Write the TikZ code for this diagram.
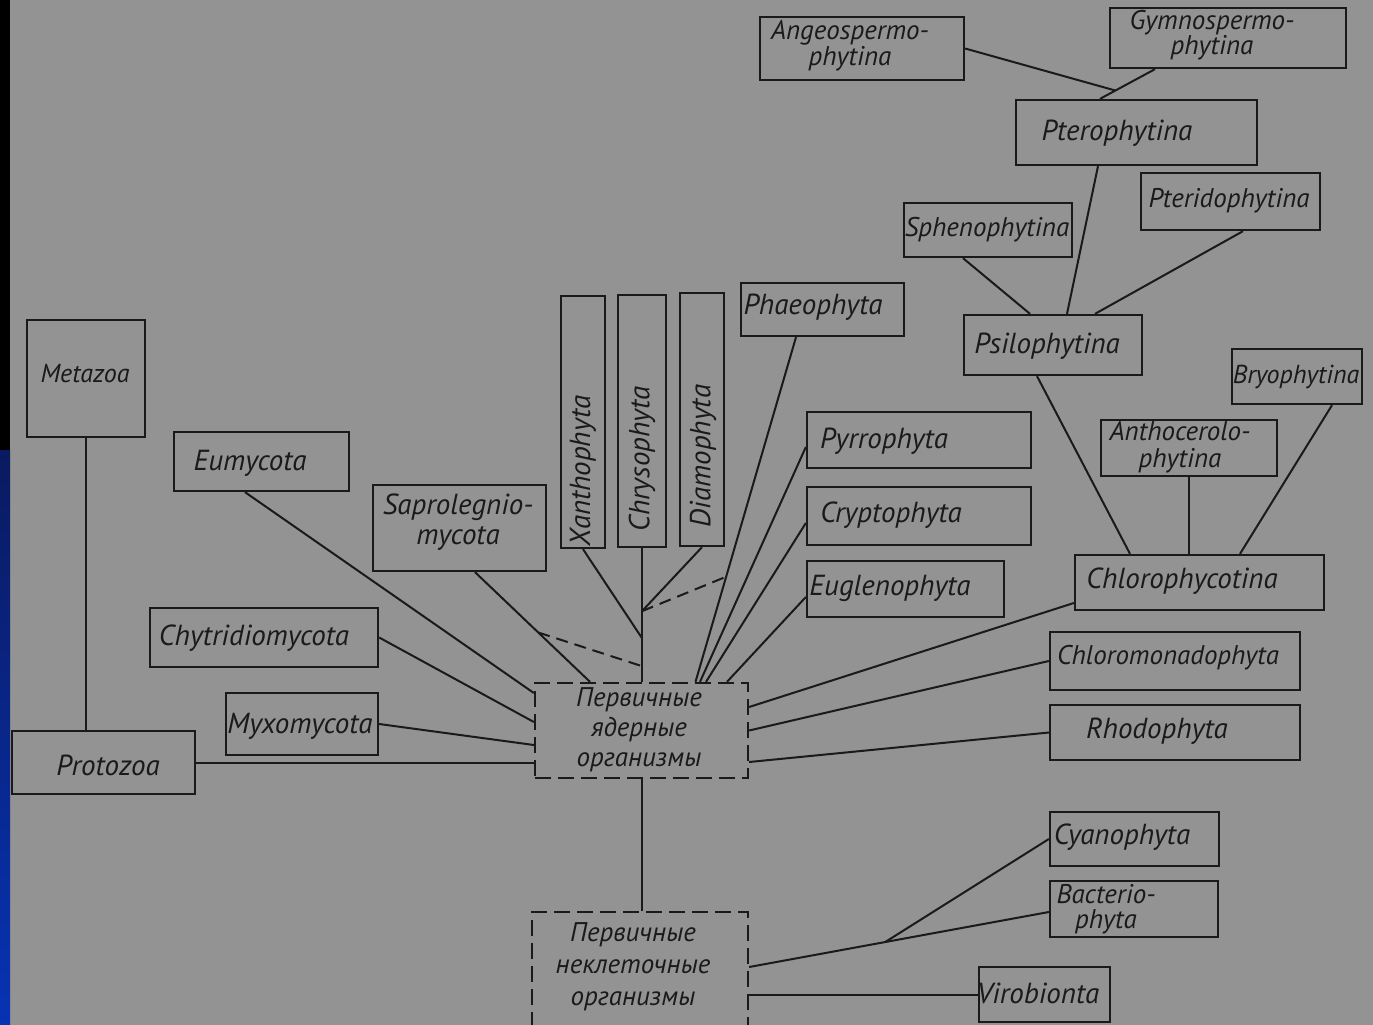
\documentclass[tikz,border=0pt]{standalone}
\usepackage{fontspec}
\setmainfont{PT Sans}
\usetikzlibrary{calc}
\definecolor{bg}{HTML}{939393}
\definecolor{ink}{HTML}{1A1A1A}
\definecolor{navy}{HTML}{0A1A60}
\definecolor{royal}{HTML}{0733B4}
\begin{document}
\begin{tikzpicture}[x=1pt,y=-1pt,
  box/.style={draw=ink, line width=2.3pt, inner sep=0pt},
  dbox/.style={box, dash pattern=on 16pt off 7pt},
  lbl/.style={text=ink, font=\fontsize{29}{30}\selectfont\itshape, inner sep=0pt, align=center},
  con/.style={draw=ink, line width=2pt},
  dcon/.style={con, dash pattern=on 12pt off 7pt}]
\useasboundingbox (0,0) rectangle (1373,1025);
\begin{scope}
\clip (0,0) rectangle (1373,1025);
\fill[bg] (0,0) rectangle (1373,1025);
\fill[black] (0,0) rectangle (10,450);
\shade[top color=navy, bottom color=royal] (0,450) rectangle (10,1025);

% boxes
\node[box, minimum width=118pt, minimum height=117pt] (meta) at (86,378.5) {};
\node[box, minimum width=175pt, minimum height=59pt] (eumy) at (261.5,461.5) {};
\node[box, minimum width=173pt, minimum height=86pt] (sapro) at (459.5,528) {};
\node[box, minimum width=44pt, minimum height=252pt] (xan) at (583,422) {};
\node[box, minimum width=48pt, minimum height=252pt] (chry) at (642,421) {};
\node[box, minimum width=44pt, minimum height=253pt] (diam) at (702,419.5) {};
\node[box, minimum width=163pt, minimum height=53pt] (phaeo) at (822.5,309.5) {};
\node[box, minimum width=228pt, minimum height=59pt] (chyt) at (264,637.5) {};
\node[box, minimum width=152pt, minimum height=62pt] (myxo) at (302,724) {};
\node[box, minimum width=183pt, minimum height=63pt] (proto) at (103.5,762.5) {};
\node[dbox, minimum width=213pt, minimum height=95pt] (core) at (641.5,730.5) {};
\node[dbox, minimum width=216pt, minimum height=158pt] (low) at (640,991) {};
\node[box, minimum width=224pt, minimum height=56pt] (pyrr) at (919,440) {};
\node[box, minimum width=224pt, minimum height=58pt] (cryp) at (919,516) {};
\node[box, minimum width=197pt, minimum height=56pt] (eugl) at (905.5,589) {};
\node[box, minimum width=204pt, minimum height=63pt] (angio) at (862,48.5) {};
\node[box, minimum width=236pt, minimum height=60pt] (gymno) at (1228,38) {};
\node[box, minimum width=241pt, minimum height=65pt] (ptero) at (1136.5,132.5) {};
\node[box, minimum width=168pt, minimum height=54pt] (sphen) at (988,230) {};
\node[box, minimum width=179pt, minimum height=57pt] (pteri) at (1230.5,201.5) {};
\node[box, minimum width=178pt, minimum height=60pt] (psilo) at (1053,345) {};
\node[box, minimum width=130pt, minimum height=55pt] (bryo) at (1297,376.5) {};
\node[box, minimum width=176pt, minimum height=56pt] (antho) at (1189,448) {};
\node[box, minimum width=249pt, minimum height=55pt] (chlor) at (1199.5,582.5) {};
\node[box, minimum width=250pt, minimum height=58pt] (chmon) at (1175,661) {};
\node[box, minimum width=250pt, minimum height=55pt] (rhodo) at (1175,732.5) {};
\node[box, minimum width=169pt, minimum height=54pt] (cyano) at (1134.5,839) {};
\node[box, minimum width=168pt, minimum height=56pt] (bact) at (1134,909) {};
\node[box, minimum width=131pt, minimum height=55pt] (viro) at (1044.5,994.5) {};

% labels
\node[lbl, font=\fontsize{26}{28}\selectfont\itshape] (tmeta) at (85,374) {Metazoa};
\node[lbl] (teumy) at (250,463) {Eumycota};
\node[lbl] (tsapro) at (458,522) {Saprolegnio-\\mycota};
\node[lbl, rotate=90] (txan) at (583,471) {Xanthophyta};
\node[lbl, rotate=90] (tchry) at (642,459) {Chrysophyta};
\node[lbl, rotate=90] (tdiam) at (703,456) {Diamophyta};
\node[lbl] (tphaeo) at (813,307) {Phaeophyta};
\node[lbl] (tchyt) at (254,638) {Chytridiomycota};
\node[lbl] (tmyxo) at (300,726) {Myxomycota};
\node[lbl] (tproto) at (108,765) {Protozoa};
\node[lbl, font=\fontsize{27}{30}\selectfont\itshape] (tcore) at (639,730) {Первичные\\ядерные\\организмы};
\node[lbl, font=\fontsize{27}{32}\selectfont\itshape] (tlow) at (633,967) {Первичные\\неклеточные\\организмы};
\node[lbl] (tpyrr) at (884,441) {Pyrrophyta};
\node[lbl] (tcryp) at (891,515) {Cryptophyta};
\node[lbl] (teugl) at (890,588) {Euglenophyta};
\node[lbl, font=\fontsize{27}{22}\selectfont\itshape] (tangio) at (850,46) {Angeospermo-\\phytina};
\node[lbl, font=\fontsize{27}{23}\selectfont\itshape] (tgymno) at (1212,35) {Gymnospermo-\\phytina};
\node[lbl] (tptero) at (1117,133) {Pterophytina};
\node[lbl, font=\fontsize{27}{30}\selectfont\itshape] (tsphen) at (987,230) {Sphenophytina};
\node[lbl, font=\fontsize{27}{30}\selectfont\itshape] (tpteri) at (1229,201) {Pteridophytina};
\node[lbl] (tpsilo) at (1047,346) {Psilophytina};
\node[lbl, font=\fontsize{26}{30}\selectfont\itshape] (tbryo) at (1296,377) {Bryophytina};
\node[lbl, font=\fontsize{27}{27}\selectfont\itshape] (tantho) at (1180,447) {Anthocerolo-\\phytina};
\node[lbl] (tchlor) at (1182,581) {Chlorophycotina};
\node[lbl, font=\fontsize{27}{30}\selectfont\itshape] (tchmon) at (1168,658) {Chloromonadophyta};
\node[lbl] (trhodo) at (1157,731) {Rhodophyta};
\node[lbl] (tcyano) at (1122,837) {Cyanophyta};
\node[lbl, font=\fontsize{27}{25}\selectfont\itshape] (tbact) at (1106,909) {Bacterio-\\phyta};
\node[lbl] (tviro) at (1038,993) {Virobionta};

% connectors - left group
\draw[con] (meta.south) -- (meta.south |- proto.north);
\draw[con] (proto.east) -- (proto.east -| core.west);
\draw[con] (myxo.east) -- ($(core.west)+(0,-14.5pt)$);
\draw[con] (chyt.east) -- ($(core.west)+(0,8.5pt)$);
\draw[con] ($(eumy.south)+(-16.5pt,0)$) -- ($(core.west)+(0,37.5pt)$);
\coordinate (s1) at ($(sapro.south)+(15.5pt,0)$);
\coordinate (s2) at ($(core.north)+(-51.5pt,0)$);
\draw[con] (s1) -- (s2);
% top group
\draw[con] (chry.south) -- (chry.south |- core.north);
\coordinate (jx) at ($(chry.south)+(0,-90pt)$);
\coordinate (jd) at ($(chry.south)+(0,-63pt)$);
\coordinate (js) at ($(chry.south)+(0,-118pt)$);
\draw[con] (xan.south) -- (jx);
\draw[con] (diam.south) -- (jd);
\draw[dcon] ($(s1)!0.55!(s2)$) -- (js);
\coordinate (p1) at ($(phaeo.south)+(-26.5pt,0)$);
\coordinate (p2) at ($(core.north)+(54pt,0)$);
\draw[con] (p1) -- (p2);
\draw[dcon] (jd) -- ($(p1)!0.695!(p2)$);
\draw[con] ($(pyrr.west)+(0,-7pt)$) -- ($(core.north)+(58.5pt,0)$);
\draw[con] ($(cryp.west)+(0,-7pt)$) -- ($(core.north)+(64.5pt,0)$);
\draw[con] ($(eugl.west)+(0,-8pt)$) -- ($(core.north)+(85.5pt,0)$);
% right group
\draw[con] ($(chlor.west)+(0,-20.5pt)$) -- ($(core.east)+(0,23.5pt)$);
\draw[con] (chmon.west) -- (core.east);
\draw[con] (rhodo.west) -- ($(core.east)+(0,-31.5pt)$);
\draw[con] ($(psilo.south)+(-16pt,0)$) -- ($(chlor.north)+(-69.5pt,0)$);
\draw[con] (antho.south) -- (antho.south |- chlor.north);
\draw[con] ($(bryo.south)+(35pt,0)$) -- ($(chlor.north)+(40.5pt,0)$);
\draw[con] ($(sphen.south)+(-25pt,0)$) -- ($(psilo.north)+(-23pt,0)$);
\draw[con] ($(ptero.south)+(-38.5pt,0)$) -- ($(psilo.north)+(14pt,0)$);
\draw[con] ($(pteri.south)+(12.5pt,0)$) -- ($(psilo.north)+(42pt,0)$);
\coordinate (g1) at ($(gymno.south)+(-73pt,0)$);
\coordinate (g2) at ($(ptero.north)+(-36.5pt,0)$);
\draw[con] (g1) -- (g2);
\draw[con] (angio.east) -- ($(g1)!0.72!(g2)$);
% bottom group
\draw[con] (core.south) -- (core.south |- low.north);
\coordinate (b1) at ($(bact.west)+(0,-3pt)$);
\coordinate (b2) at ($(low.east)+(0,24pt)$);
\draw[con] (b1) -- (b2);
\draw[con] (cyano.west) -- ($(b1)!0.546!(b2)$);
\draw[con] (viro.west) -- (viro.west -| low.east);
\end{scope}
\end{tikzpicture}
\end{document}
